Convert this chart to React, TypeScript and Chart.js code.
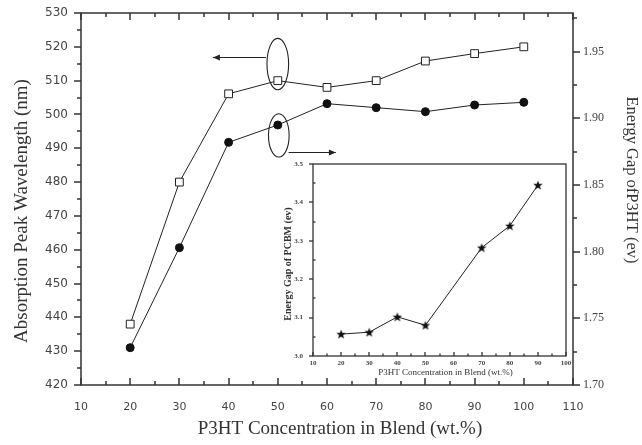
import React, { useEffect, useRef } from "react";
import { Chart, registerables } from "chart.js";
Chart.register(...registerables);

// ---------- data ----------
const concentrations = [20, 30, 40, 50, 60, 70, 80, 90, 100];
const absorptionPeak = [438, 480, 506.1, 510, 508, 510, 515.8, 518, 520];
const energyGapP3HT = [1.728, 1.803, 1.882, 1.895, 1.911, 1.908, 1.905, 1.91, 1.912];

const insetConcentrations = [20, 30, 40, 50, 70, 80, 90];
const energyGapPCBM = [3.057, 3.062, 3.102, 3.08, 3.282, 3.339, 3.445];

// tick labels
const xMainTicks = [10, 20, 30, 40, 50, 60, 70, 80, 90, 100, 110];
const yLeftTicks = [420, 430, 440, 450, 460, 470, 480, 490, 500, 510, 520, 530];
const yRightTicks = [1.7, 1.75, 1.8, 1.85, 1.9, 1.95];
const xInsetTicks = [10, 20, 30, 40, 50, 60, 70, 80, 90, 100];
const yInsetTicks = [3.0, 3.1, 3.2, 3.3, 3.4, 3.5];

// text
const xTitle = "P3HT Concentration in Blend (wt.%)";
const yLeftTitle = "Absorption Peak Wavelength (nm)";
const yRightTitle = "Energy Gap ofP3HT (ev)";
const insetXTitle = "P3HT Concentration in Blend (wt.%)";
const insetYTitle = "Energy Gap of PCBM (ev)";

const INK = "#222";
const AXIS = "#333";
const SERIF = "'Liberation Serif', 'Times New Roman', serif";
const SANS = "'DejaVu Sans', sans-serif";

function minors(majors: number[]): number[] {
  const out: number[] = [];
  for (let i = 0; i < majors.length - 1; i++) out.push((majors[i] + majors[i + 1]) / 2);
  return out;
}

function makeStar(): HTMLCanvasElement {
  const c = document.createElement("canvas");
  c.width = 10;
  c.height = 10;
  const g = c.getContext("2d")!;
  g.fillStyle = "#111";
  g.beginPath();
  for (let i = 0; i < 10; i++) {
    const r = i % 2 === 0 ? 5 : 2.1;
    const ang = -Math.PI / 2 + (i * Math.PI) / 5;
    const px = 5 + r * Math.cos(ang);
    const py = 5.4 + r * Math.sin(ang);
    if (i === 0) g.moveTo(px, py);
    else g.lineTo(px, py);
  }
  g.closePath();
  g.fill();
  return c;
}

function seg(ctx: CanvasRenderingContext2D, x1: number, y1: number, x2: number, y2: number) {
  ctx.beginPath();
  ctx.moveTo(x1, y1);
  ctx.lineTo(x2, y2);
  ctx.stroke();
}

function arrow(ctx: CanvasRenderingContext2D, x1: number, x2: number, y: number) {
  const yy = Math.round(y) + 0.5;
  seg(ctx, x1, yy, x2, yy);
  const dir = x2 > x1 ? 1 : -1;
  ctx.beginPath();
  ctx.moveTo(x2, yy);
  ctx.lineTo(x2 - dir * 7, yy - 3);
  ctx.lineTo(x2 - dir * 7, yy + 3);
  ctx.closePath();
  ctx.fill();
}

function drawText(ctx: CanvasRenderingContext2D, s: string, x: number, y: number, rot: number, font: string) {
  ctx.save();
  ctx.translate(x, y);
  ctx.rotate(rot);
  ctx.font = font;
  ctx.textAlign = "center";
  ctx.textBaseline = "middle";
  ctx.fillText(s, 0, 0);
  ctx.restore();
}

const mainDecor = {
  id: "mainDecor",
  afterDraw(chart: any) {
    const ctx: CanvasRenderingContext2D = chart.ctx;
    const a = chart.chartArea;
    const sx = chart.scales.x, sy = chart.scales.y, sy2 = chart.scales.y2;
    const L = Math.round(a.left), R = Math.round(a.right), T = Math.round(a.top), B = Math.round(a.bottom);
    ctx.save();
    ctx.strokeStyle = AXIS;
    ctx.fillStyle = AXIS;
    ctx.lineWidth = 1.5;
    ctx.strokeRect(L, T, R - L, B - T);
    // x ticks bottom & top (inward)
    for (const v of xMainTicks) {
      const p = Math.round(sx.getPixelForValue(v));
      seg(ctx, p, B, p, B - 7);
      seg(ctx, p, T, p, T + 7);
    }
    for (const v of minors(xMainTicks)) {
      const p = Math.round(sx.getPixelForValue(v));
      seg(ctx, p, B, p, B - 4);
      seg(ctx, p, T, p, T + 4);
    }
    // left ticks outward
    for (const v of yLeftTicks) {
      const p = Math.round(sy.getPixelForValue(v));
      seg(ctx, L, p, L - 7, p);
    }
    for (const v of minors(yLeftTicks)) {
      const p = Math.round(sy.getPixelForValue(v));
      seg(ctx, L, p, L - 4, p);
    }
    // right ticks outward
    for (const v of yRightTicks) {
      const p = Math.round(sy2.getPixelForValue(v));
      seg(ctx, R, p, R + 7, p);
    }
    for (const v of [...minors(yRightTicks), 1.975]) {
      const p = Math.round(sy2.getPixelForValue(v));
      seg(ctx, R, p, R + 4, p);
    }

    // annotations: ellipses around the 50 wt.% points and arrows to their axes
    ctx.strokeStyle = INK;
    ctx.fillStyle = INK;
    ctx.lineWidth = 1.1;
    const ex = sx.getPixelForValue(50);
    const rx = sx.getPixelForValue(52.2) - ex;
    const e1y = sy.getPixelForValue(514.9);
    const e1r = sy.getPixelForValue(507.3) - e1y;
    ctx.beginPath();
    ctx.ellipse(ex, e1y, rx, e1r, 0, 0, Math.PI * 2);
    ctx.stroke();
    arrow(ctx, sx.getPixelForValue(47.6), sx.getPixelForValue(36.8), sy.getPixelForValue(517));
    const e2y = sy.getPixelForValue(493.8);
    const e2r = sy.getPixelForValue(487.4) - e2y;
    ctx.beginPath();
    ctx.ellipse(ex + 1, e2y, rx - 0.5, e2r, 0, 0, Math.PI * 2);
    ctx.stroke();
    arrow(ctx, sx.getPixelForValue(52.2), sx.getPixelForValue(61.8), sy.getPixelForValue(488.9));

    // titles
    ctx.fillStyle = "#333";
    drawText(ctx, yLeftTitle, 22, 211, -Math.PI / 2, `19px ${SERIF}`);
    drawText(ctx, xTitle, 340, 429, 0, `19px ${SERIF}`);
    drawText(ctx, yRightTitle, 631, 180, Math.PI / 2, `16.5px ${SERIF}`);
    ctx.restore();
  },
};

const insetDecor = {
  id: "insetDecor",
  afterDraw(chart: any) {
    const ctx: CanvasRenderingContext2D = chart.ctx;
    const a = chart.chartArea;
    const sx = chart.scales.x, sy = chart.scales.y;
    const L = Math.round(a.left), R = Math.round(a.right), T = Math.round(a.top), B = Math.round(a.bottom);
    ctx.save();
    ctx.strokeStyle = AXIS;
    ctx.lineWidth = 1.3;
    ctx.strokeRect(L, T, R - L, B - T);
    for (const v of xInsetTicks) {
      const p = Math.round(sx.getPixelForValue(v));
      seg(ctx, p, B, p, B - 4);
    }
    for (const v of minors(xInsetTicks)) {
      const p = Math.round(sx.getPixelForValue(v));
      seg(ctx, p, B, p, B - 2.5);
    }
    for (const v of yInsetTicks) {
      const p = Math.round(sy.getPixelForValue(v));
      seg(ctx, L, p, L - 4, p);
    }
    for (const v of minors(yInsetTicks)) {
      const p = Math.round(sy.getPixelForValue(v));
      seg(ctx, L, p, L + 2.5, p);
    }
    ctx.fillStyle = "#333";
    drawText(ctx, insetXTitle, (L + R) / 2 + 6, B + 17, 0, `9px ${SERIF}`);
    drawText(ctx, insetYTitle, L - 25, (T + B) / 2 + 4, -Math.PI / 2, `bold 10px ${SERIF}`);
    ctx.restore();
  },
};

function fixedTicks(values: number[]) {
  return (s: any) => {
    s.ticks = values.map((v) => ({ value: v }));
  };
}

function fitY(width: number) {
  return (s: any) => {
    s.width = width;
    s.paddingTop = 0;
    s.paddingBottom = 0;
  };
}
function fitX(height: number) {
  return (s: any) => {
    s.height = height;
    s.paddingLeft = 0;
    s.paddingRight = 0;
  };
}

export default function App() {
  const mainRef = useRef<HTMLCanvasElement>(null);
  const insetRef = useRef<HTMLCanvasElement>(null);

  useEffect(() => {
    document.body.style.margin = "0";
    const main = new Chart(mainRef.current!, {
      type: "line",
      data: {
        datasets: [
          {
            data: concentrations.map((x, i) => ({ x, y: absorptionPeak[i] })),
            yAxisID: "y",
            borderColor: INK,
            borderWidth: 1,
            pointStyle: "rect",
            pointRadius: 5.5,
            pointBackgroundColor: "#fff",
            pointBorderColor: INK,
            pointBorderWidth: 1,
            tension: 0,
          },
          {
            data: concentrations.map((x, i) => ({ x, y: energyGapP3HT[i] })),
            yAxisID: "y2",
            borderColor: INK,
            borderWidth: 1,
            pointStyle: "circle",
            pointRadius: 4,
            pointBackgroundColor: "#111",
            pointBorderColor: "#111",
            pointBorderWidth: 1,
            tension: 0,
          },
        ],
      },
      options: {
        responsive: false,
        animation: false,
        layout: { padding: { top: 13, left: 0, right: 0, bottom: 0 } },
        plugins: { legend: { display: false }, tooltip: { enabled: false } },
        scales: {
          x: {
            type: "linear",
            position: "bottom",
            min: 10,
            max: 110,
            grid: { display: false, drawTicks: false },
            border: { display: false },
            ticks: { font: { family: SANS, size: 11 }, color: "#444", padding: 16, maxRotation: 0, autoSkip: false },
            afterBuildTicks: fixedTicks(xMainTicks),
            afterFit: fitX(60),
          },
          y: {
            type: "linear",
            position: "left",
            min: 420,
            max: 530,
            grid: { display: false, drawTicks: false },
            border: { display: false },
            ticks: { font: { family: SANS, size: 12 }, color: "#444", padding: 13, autoSkip: false },
            afterBuildTicks: fixedTicks(yLeftTicks),
            afterFit: fitY(81),
          },
          y2: {
            type: "linear",
            position: "right",
            min: 1.7,
            max: 1.979,
            grid: { display: false, drawTicks: false },
            border: { display: false },
            ticks: {
              font: { family: SERIF, size: 12 },
              color: "#444",
              padding: 10,
              autoSkip: false,
              callback: (v: any) => Number(v).toFixed(2),
            },
            afterBuildTicks: fixedTicks(yRightTicks),
            afterFit: fitY(69),
          },
        },
      },
      plugins: [mainDecor],
    });

    const inset = new Chart(insetRef.current!, {
      type: "line",
      data: {
        datasets: [
          {
            data: insetConcentrations.map((x, i) => ({ x, y: energyGapPCBM[i] })),
            borderColor: INK,
            borderWidth: 1,
            pointStyle: makeStar(),
            pointRadius: 4,
            tension: 0,
          },
        ],
      },
      options: {
        responsive: false,
        animation: false,
        layout: { padding: { top: 9, left: 0, right: 6, bottom: 0 } },
        plugins: { legend: { display: false }, tooltip: { enabled: false } },
        scales: {
          x: {
            type: "linear",
            min: 10,
            max: 100,
            grid: { display: false, drawTicks: false },
            border: { display: false },
            ticks: { font: { family: SERIF, size: 7, weight: "bold" }, color: "#444", padding: 3, maxRotation: 0, autoSkip: false },
            afterBuildTicks: fixedTicks(xInsetTicks),
            afterFit: fitX(29),
          },
          y: {
            type: "linear",
            min: 3.0,
            max: 3.5,
            grid: { display: false, drawTicks: false },
            border: { display: false },
            ticks: {
              font: { family: SERIF, size: 7, weight: "bold" },
              color: "#444",
              padding: 10,
              autoSkip: false,
              callback: (v: any) => Number(v).toFixed(1),
            },
            afterBuildTicks: fixedTicks(yInsetTicks),
            afterFit: fitY(38),
          },
        },
      },
      plugins: [insetDecor],
    });

    return () => {
      main.destroy();
      inset.destroy();
    };
  }, []);

  return (
    <div style={{ position: "fixed", left: 0, top: 0, width: 642, height: 445, background: "#fff" }}>
      <canvas ref={mainRef} width={642} height={445} style={{ position: "absolute", left: 0, top: 0 }} />
      <canvas ref={insetRef} width={297} height={230} style={{ position: "absolute", left: 275, top: 155 }} />
    </div>
  );
}
